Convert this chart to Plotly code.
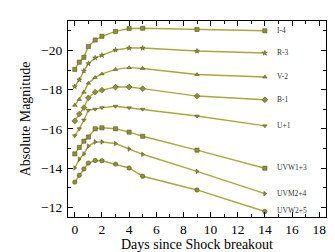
import plotly.graph_objects as go

days = [0, 0.33, 0.67, 1, 1.5, 2, 3, 4, 5, 9, 14]

band_names = ["I-4", "R-3", "V-2", "B-1", "U+1", "UVW1+3", "UVM2+4", "UVW2+5"]

mag_I = [-19.03, -19.4, -19.65, -20.2, -20.53, -20.72, -20.97, -21.12, -21.13, -21.07, -21.0]
mag_R = [-18.15, -18.5, -18.95, -19.33, -19.62, -19.75, -20.02, -20.12, -20.12, -19.97, -19.87]
mag_V = [-17.2, -17.5, -17.87, -18.33, -18.62, -18.8, -19.03, -19.12, -19.08, -18.77, -18.64]
mag_B = [-16.4, -16.75, -17.08, -17.58, -17.87, -17.97, -18.13, -18.13, -18.05, -17.67, -17.48]
mag_U = [-15.65, -16.0, -16.45, -16.95, -17.0, -17.08, -17.15, -17.07, -17.0, -16.65, -16.15]
mag_UVW1 = [-14.72, -15.05, -15.37, -15.58, -16.0, -16.05, -16.0, -15.83, -15.62, -14.91, -13.99]
mag_UVM2 = [-14.0, -14.45, -14.72, -15.12, -15.33, -15.33, -15.25, -14.97, -14.7, -13.83, -12.69]
mag_UVW2 = [-13.28, -13.63, -13.95, -14.25, -14.38, -14.37, -14.2, -14.0, -13.58, -12.88, -11.78]

all_mags = [mag_I, mag_R, mag_V, mag_B, mag_U, mag_UVW1, mag_UVM2, mag_UVW2]
symbols = ["square", "star", "triangle-up", "diamond", "triangle-down", "square", "triangle-right", "circle"]
sizes = [4.2, 3.8, 4, 4.5, 4, 4.2, 4, 4.4]

model_label = "r1w1h"
x_title = "Days since Shock breakout"
y_title = "Absolute Magnitude"

line_col = "#a9a93a"
fill_col = "#8f8f35"
edge_col = "#4a4a1a"
serif = "Liberation Serif"

fig = go.Figure()
for mags, sym, sz in zip(all_mags, symbols, sizes):
    fig.add_trace(go.Scatter(
        x=days, y=mags, mode="lines+markers",
        line=dict(color=line_col, width=1.4),
        marker=dict(symbol=sym, size=sz, color=fill_col,
                    line=dict(color=edge_col, width=0.5)),
        showlegend=False, hoverinfo="skip"))

fig.add_trace(go.Scatter(
    x=[14.9] * len(band_names), y=[m[-1] for m in all_mags],
    mode="text", text=band_names, textposition="middle right",
    textfont=dict(family=serif, size=7.5, color="#333333"),
    cliponaxis=False, showlegend=False, hoverinfo="skip"))

fig.add_annotation(x=-0.45, y=-11.45, xref="x", yref="y", text=model_label,
                   showarrow=False, xanchor="left", yanchor="bottom",
                   font=dict(family=serif, size=13.5, color="#a6a63c"))

axis_common = dict(showline=True, linecolor="black", linewidth=1.2, mirror="ticks",
                   ticks="inside", ticklen=5, tickwidth=1, tickcolor="black",
                   showgrid=False, zeroline=False,
                   tickfont=dict(family=serif, size=13.5, color="black"))

fig.update_xaxes(range=[-0.5, 18.5], dtick=2, tick0=0,
                 minor=dict(ticks="inside", ticklen=3, dtick=1, tick0=0, tickcolor="black"),
                 title=dict(text=x_title, font=dict(family=serif, size=14, color="black"), standoff=1),
                 **axis_common)
fig.update_yaxes(range=[-11.5, -21.5], dtick=2, tick0=0,
                 minor=dict(ticks="inside", ticklen=3, dtick=1, tick0=0, tickcolor="black"),
                 title=dict(text=y_title, font=dict(family=serif, size=14, color="black"), standoff=7),
                 ticklabelstandoff=2,
                 **axis_common)

fig.update_layout(width=335, height=252,
                  margin=dict(l=60, r=17, t=13, b=38),
                  paper_bgcolor="white", plot_bgcolor="white")

fig.write_html("out.html")
